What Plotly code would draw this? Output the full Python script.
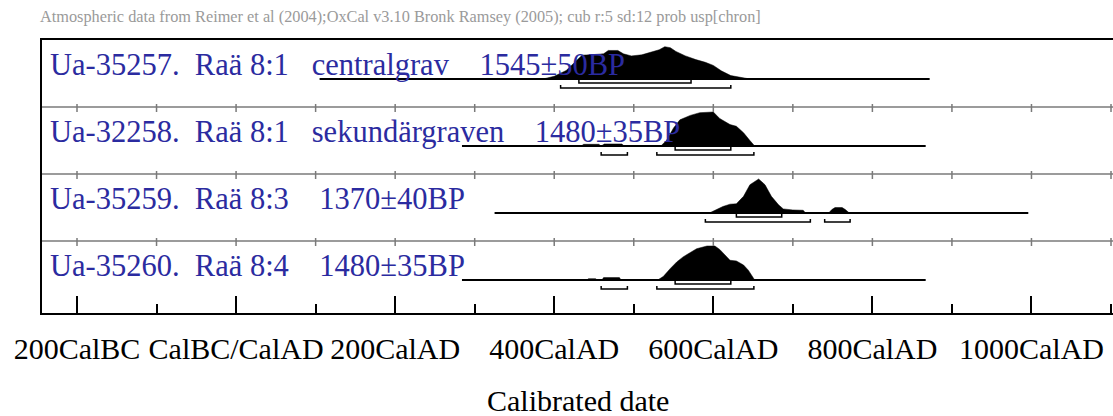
import plotly.graph_objects as go

# ---------------- data ----------------
sample_labels = [
    "Ua-35257.  Raä 8:1   centralgrav    1545±50BP",
    "Ua-32258.  Raä 8:1   sekundärgraven    1480±35BP",
    "Ua-35259.  Raä 8:3    1370±40BP",
    "Ua-35260.  Raä 8:4    1480±35BP",
]

# calibrated probability (relative) per sample, years AD
dist1_years = [386, 400, 415, 428, 435, 450, 462, 468, 480, 487, 497, 510, 522, 532, 539, 546, 553, 565, 578, 590, 600, 610, 622, 635, 646]
dist1_prob = [0, .08, .25, .55, .70, .72, .74, .84, .84, .74, .68, .71, .78, .86, .95, .92, .81, .68, .57, .49, .40, .24, .10, .05, 0]

dist2_years = [434, 437, 456, 459, 463, 485, 488, 534, 541, 550, 558, 571, 583, 600, 608, 621, 629, 638, 646, 652]
dist2_prob = [0, .05, .05, 0, .06, .06, 0, 0, .16, .53, .77, .90, .98, 1.0, .81, .63, .58, .39, .16, 0]

dist3_years = [595, 604, 612, 621, 629, 638, 646, 657, 665, 673, 682, 688, 700, 713, 716, 745, 749, 753, 762, 766, 771]
dist3_prob = [0, .10, .19, .26, .27, .49, .83, 1.0, .83, .49, .24, .12, .09, .08, 0, 0, .10, .16, .16, .10, 0]

dist4_years = [441, 443, 452, 454, 460, 462, 482, 484, 530, 537, 546, 554, 562, 571, 579, 592, 602, 608, 617, 621, 629, 638, 644, 652]
dist4_prob = [0, .04, .04, 0, 0, .07, .07, 0, 0, .10, .34, .53, .68, .80, .92, 1.0, 1.0, .90, .68, .58, .56, .44, .29, 0]

dist_years = [dist1_years, dist2_years, dist3_years, dist4_years]
dist_probs = [dist1_prob, dist2_prob, dist3_prob, dist4_prob]

# extent of each baseline (years)
line_start = [105, 284, 325, 284]
line_end = [872, 867, 996, 867]

# 68.2% and 95.4% ranges
range68 = [[(431, 572)], [(552, 622)], [(629, 686)], [(552, 622)]]
range95 = [[(408, 622)], [(459, 492), (529, 651)], [(590, 722), (740, 772)], [(459, 492), (529, 651)]]

tick_vals = [-200, 0, 200, 400, 600, 800, 1000]
tick_text = ["200CalBC", "CalBC/CalAD", "200CalAD", "400CalAD", "600CalAD", "800CalAD", "1000CalAD"]

header = "Atmospheric data from Reimer et al (2004);OxCal v3.10 Bronk Ramsey (2005); cub r:5 sd:12 prob usp[chron]"
x_title = "Calibrated date"

# ---------------- layout constants ----------------
W, H = 1113, 416
ML, MR, MT, MB = 42, 0, 40, 103
ROW_PX = 67.0
PLOT_H = H - MT - MB
PX = 1.0 / ROW_PX                 # one pixel in row units
Y_MAX = PLOT_H * PX
X_RANGE = [-244, 1102.5]
BASE_OFF = 39 * PX
PEAK = 34 * PX
SERIF = "Liberation Serif, Times New Roman, serif"
BLUE = "#2b2ba0"

fig = go.Figure()

for i in range(4):
    base = i + BASE_OFF
    # baseline
    fig.add_trace(go.Scatter(x=[line_start[i], line_end[i]], y=[base, base], mode="lines",
                             line=dict(color="black", width=2), hoverinfo="skip"))
    # distribution
    ys = [base - p * PEAK for p in dist_probs[i]]
    fig.add_trace(go.Scatter(x=dist_years[i], y=ys, mode="lines", fill="toself",
                             fillcolor="black", line=dict(color="black", width=0.5), hoverinfo="skip"))
    # ranges
    for rng, off in ((range68[i], 4 * PX), (range95[i], 9 * PX)):
        for a, b in rng:
            yb = base + off
            fig.add_trace(go.Scatter(x=[a, a, b, b], y=[yb - 3 * PX, yb, yb, yb - 3 * PX], mode="lines",
                                     line=dict(color="black", width=1.5), hoverinfo="skip"))
    # label
    fig.add_annotation(text=sample_labels[i].replace(" ", "\u00a0"), xref="paper", yref="y",
                       x=(48 - ML) / (W - ML - MR), y=i + 25 * PX, xanchor="left", yanchor="middle",
                       showarrow=False, font=dict(family=SERIF, size=30.5, color=BLUE))

# separators with ticks
for s in (1, 2, 3):
    fig.add_shape(type="line", xref="paper", yref="y", x0=0, x1=1, y0=s, y1=s,
                  line=dict(color="#7a7a7a", width=1.5))
    for t in range(-200, 1101, 100):
        fig.add_shape(type="line", xref="x", yref="y", x0=t, x1=t, y0=s - 3 * PX, y1=s + 5 * PX,
                      line=dict(color="#7a7a7a", width=1.5))

fig.add_annotation(text=header, xref="paper", yref="paper", x=(38 - ML) / (W - ML - MR),
                   y=1 + (MT - 16) / PLOT_H, xanchor="left", yanchor="middle", showarrow=False,
                   font=dict(family=SERIF, size=16.3, color="#9a9a9a"))
fig.add_annotation(text=x_title, xref="paper", yref="paper", x=0.5, y=-(400 - (H - MB)) / PLOT_H,
                   xanchor="center", yanchor="middle", showarrow=False,
                   font=dict(family=SERIF, size=30, color="black"))

fig.update_layout(
    width=W, height=H, autosize=False,
    margin=dict(l=ML, r=MR, t=MT, b=MB, pad=0),
    paper_bgcolor="white", plot_bgcolor="white",
    showlegend=False,
    font=dict(family=SERIF, color="black"),
    xaxis=dict(range=X_RANGE, tickmode="array", tickvals=tick_vals, ticktext=tick_text,
               tickangle=0, ticks="inside", ticklen=17, tickwidth=2, tickcolor="black",
               showline=True, linewidth=2, linecolor="black", mirror=True,
               showgrid=False, zeroline=False, ticklabelstandoff=8,
               tickfont=dict(family=SERIF, size=30, color="black"),
               minor=dict(dtick=100, tick0=-100, ticks="inside", ticklen=9, tickwidth=2,
                          tickcolor="black", showgrid=False)),
    yaxis=dict(range=[Y_MAX, 0], showline=True, linewidth=2, linecolor="black",
               showticklabels=False, ticks="", showgrid=False, zeroline=False),
)

fig.write_html("out.html", config={"displayModeBar": False},
               post_script="document.body.style.margin='0';document.body.style.overflow='hidden';")
